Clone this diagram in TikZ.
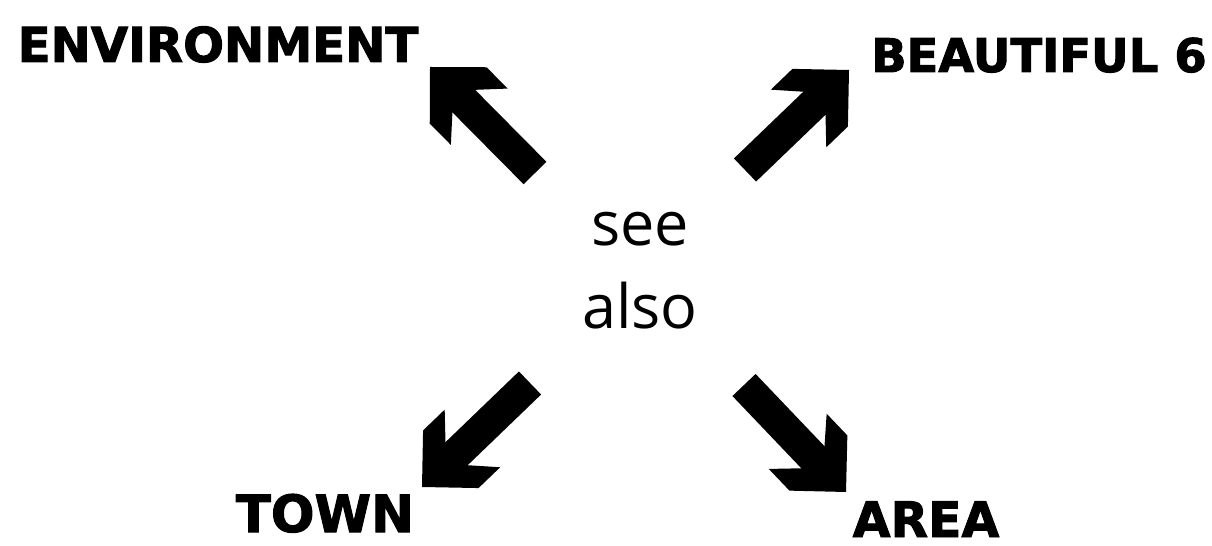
\documentclass[tikz,border=0pt]{standalone}
\usepackage{fontspec}
\usetikzlibrary{arrows.meta}
\newfontfamily\heavyfont{DejaVu Sans}[BoldFeatures={FakeBold=2}]
\newfontfamily\softfont{Open Sans}
% square-cornered head, filled
\pgfdeclarearrow{
  name = Chevron,
  setup code = {
    \pgfarrowssettipend{0pt}
    \pgfarrowssetlineend{-4.6mm}
    \pgfarrowssetbackend{-7mm}
    \pgfarrowssetvisualbackend{-4.6mm}
    \pgfarrowshullpoint{0pt}{0pt}
    \pgfarrowsupperhullpoint{-7mm}{4mm}
  },
  drawing code = {
    \pgfpathmoveto{\pgfpointorigin}
    \pgfpathlineto{\pgfpoint{-4mm}{4mm}}
    \pgfpathlineto{\pgfpoint{-7mm}{4mm}}
    \pgfpathlineto{\pgfpoint{-4.8mm}{1.6mm}}
    \pgfpathlineto{\pgfpoint{-4.8mm}{-1.6mm}}
    \pgfpathlineto{\pgfpoint{-7mm}{-4mm}}
    \pgfpathlineto{\pgfpoint{-4mm}{-4mm}}
    \pgfpathclose
    \pgfusepathqfill
  }
}
\begin{document}
\begin{tikzpicture}[x=0.1mm, y=-0.1mm,
    lbl/.style={font=\heavyfont\bfseries\fontsize{#1}{16}\selectfont, anchor=base, inner sep=0pt},
    lbl/.default=13.7,
    bigarrow/.style={-Chevron, line width=3.2mm}]
  \useasboundingbox (0,0) rectangle (1212,546);
  \node[font=\softfont\fontsize{17.4}{23.6}\selectfont, align=center, inner sep=0pt] (seealso) at (640,271) {see\\also};
  \node[lbl] (env) at (218,62) {ENVIRONMENT};
  \node[lbl=13.2] (beau) at (1039,72) {BEAUTIFUL 6};
  \node[lbl=14.6] (town) at (325,532) {TOWN};
  \node[lbl=13.9] (area) at (926,537) {AREA};
  % tails round the centre, tips by the words
  \coordinate (envtail) at (535,173);  \coordinate (envtip) at (430,67);
  \coordinate (beautail) at (745,170); \coordinate (beautip) at (849,70);
  \coordinate (towntail) at (530,383); \coordinate (towntip) at (422,487);
  \coordinate (areatail) at (744,385); \coordinate (areatip) at (846,492);
  \foreach \w in {env,beau,town,area} \draw[bigarrow] (\w tail) -- (\w tip);
\end{tikzpicture}
\end{document}
